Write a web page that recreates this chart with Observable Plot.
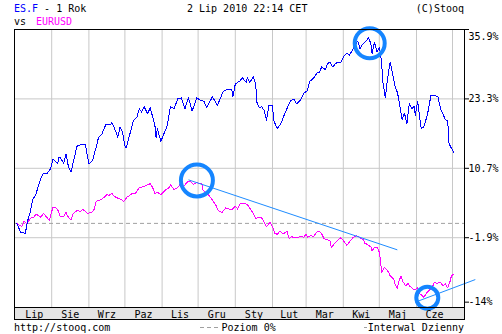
<!DOCTYPE html>
<html><head><meta charset="utf-8">
<script src="https://cdn.jsdelivr.net/npm/d3@7"></script>
<script src="https://cdn.jsdelivr.net/npm/@observablehq/plot@0.6"></script>
<style>
html,body{margin:0;padding:0;background:#fff;}
#chart svg{display:block;}
#chart text{white-space:pre;}
</style></head><body><div id="chart"></div>
<script>
// ES.F (blue) – % change
const esDates = [
 "2009-07-03","2009-07-06","2009-07-10","2009-07-12","2009-07-14","2009-07-16","2009-07-19","2009-07-21","2009-07-23","2009-07-25","2009-07-28","2009-07-31",
 "2009-08-02","2009-08-06","2009-08-07","2009-08-08","2009-08-11","2009-08-13","2009-08-15","2009-08-17","2009-08-19","2009-08-22","2009-08-25","2009-08-29","2009-08-31",
 "2009-09-01","2009-09-04","2009-09-07","2009-09-09","2009-09-12","2009-09-15","2009-09-19","2009-09-20","2009-09-23","2009-09-25","2009-09-27","2009-09-29",
 "2009-10-01","2009-10-02","2009-10-06","2009-10-08","2009-10-11","2009-10-13","2009-10-15","2009-10-17","2009-10-20","2009-10-22","2009-10-25","2009-10-26","2009-10-27","2009-10-28","2009-10-31",
 "2009-11-02","2009-11-05","2009-11-08","2009-11-11","2009-11-14","2009-11-17","2009-11-20","2009-11-23","2009-11-26","2009-11-30",
 "2009-12-03","2009-12-06","2009-12-08","2009-12-13","2009-12-17","2009-12-22","2009-12-25","2009-12-29","2009-12-30",
 "2010-01-01","2010-01-05","2010-01-07","2010-01-10","2010-01-11","2010-01-13","2010-01-16","2010-01-18","2010-01-19","2010-01-21","2010-01-23","2010-01-25","2010-01-27","2010-01-29",
 "2010-02-01","2010-02-02","2010-02-05","2010-02-08","2010-02-10","2010-02-13","2010-02-16","2010-02-19","2010-02-21","2010-02-24","2010-02-27",
 "2010-03-02","2010-03-04","2010-03-07","2010-03-10","2010-03-12","2010-03-14","2010-03-17","2010-03-19","2010-03-21","2010-03-23","2010-03-26","2010-03-30",
 "2010-04-01","2010-04-04","2010-04-06","2010-04-10","2010-04-13","2010-04-15","2010-04-17","2010-04-20","2010-04-22","2010-04-24","2010-04-25","2010-04-27","2010-04-29",
 "2010-05-01","2010-05-02","2010-05-03","2010-05-04","2010-05-05","2010-05-06","2010-05-08","2010-05-09","2010-05-10","2010-05-12","2010-05-14","2010-05-16","2010-05-17","2010-05-19","2010-05-20","2010-05-22","2010-05-24","2010-05-26","2010-05-28","2010-05-30","2010-05-31",
 "2010-06-02","2010-06-04","2010-06-05","2010-06-07","2010-06-10","2010-06-11","2010-06-13","2010-06-17","2010-06-19","2010-06-21","2010-06-23","2010-06-25","2010-06-27","2010-06-28","2010-06-29",
 "2010-07-02"
];
const esValues = [
 0.7, -0.9, -1.1, 1.2, 2.7, 4.9, 6.1, 7.6, 8.9, 9.8, 9.7, 10.6,
 12.4, 11.5, 12.7, 12.7, 11.6, 13.3, 10.9, 10.0, 11.8, 14.7, 15.0, 15.0, 12.7,
 11.5, 12.1, 14.5, 16.3, 17.0, 18.6, 18.6, 19.1, 17.6, 16.3, 18.2, 17.3,
 14.8, 14.4, 17.6, 19.4, 20.0, 21.5, 20.9, 21.9, 20.6, 21.7, 19.4, 18.5, 16.3, 17.9, 15.6,
 16.7, 18.2, 21.9, 21.5, 23.3, 23.5, 21.5, 23.5, 21.1, 23.5,
 23.0, 22.9, 21.7, 23.7, 22.1, 24.7, 25.0, 25.0, 23.7,
 26.0, 26.6, 27.1, 26.3, 27.2, 26.2, 27.4, 26.0, 22.7, 21.7, 21.9, 21.2, 19.4, 22.1,
 22.1, 19.4, 17.9, 18.8, 20.0, 21.5, 23.0, 23.3, 22.4, 23.0, 24.3,
 24.8, 26.5, 27.0, 28.0, 28.1, 29.1, 28.6, 29.7, 30.0, 29.1, 29.8, 30.0,
 30.9, 31.6, 31.2, 32.7, 33.8, 32.4, 33.2, 33.8, 34.4, 33.3, 31.5, 33.6, 31.8,
 32.7, 31.5, 29.7, 26.3, 25.1, 23.5, 27.2, 28.5, 30.0, 27.9, 25.7, 24.5, 23.5, 20.9, 19.5, 20.7, 18.8, 22.4, 21.5, 21.9, 20.3,
 22.9, 19.4, 17.9, 18.2, 20.3, 21.5, 23.9, 23.9, 23.6, 21.5, 20.6, 19.5, 19.4, 15.4, 14.8,
 13.6
];
// EURUSD (magenta) – % change
const fxDates = [
 "2009-07-03","2009-07-07","2009-07-09","2009-07-11","2009-07-13","2009-07-15","2009-07-17","2009-07-19","2009-07-21","2009-07-23","2009-07-25","2009-07-28","2009-07-30","2009-07-31",
 "2009-08-02","2009-08-04","2009-08-06","2009-08-08","2009-08-11","2009-08-13","2009-08-14","2009-08-17","2009-08-19","2009-08-22","2009-08-25","2009-08-27","2009-08-29","2009-08-31",
 "2009-09-03","2009-09-05","2009-09-07","2009-09-10","2009-09-13","2009-09-16","2009-09-18","2009-09-20","2009-09-22","2009-09-25","2009-09-28","2009-09-30",
 "2009-10-03","2009-10-05","2009-10-07","2009-10-10","2009-10-13","2009-10-15","2009-10-17","2009-10-20","2009-10-22","2009-10-24","2009-10-26","2009-10-28","2009-10-31",
 "2009-11-02","2009-11-04","2009-11-07","2009-11-08","2009-11-11","2009-11-14","2009-11-16","2009-11-19","2009-11-22","2009-11-24","2009-11-27","2009-11-30",
 "2009-12-02","2009-12-04","2009-12-05","2009-12-07","2009-12-10","2009-12-13","2009-12-16","2009-12-18","2009-12-21","2009-12-24","2009-12-27","2009-12-29",
 "2010-01-01","2010-01-03","2010-01-05","2010-01-09","2010-01-11","2010-01-14","2010-01-16","2010-01-18","2010-01-20","2010-01-23","2010-01-25","2010-01-27","2010-01-30",
 "2010-02-01","2010-02-03","2010-02-05","2010-02-07","2010-02-10","2010-02-13","2010-02-15","2010-02-17","2010-02-19","2010-02-22","2010-02-24","2010-02-27",
 "2010-03-01","2010-03-02","2010-03-05","2010-03-07","2010-03-10","2010-03-12","2010-03-14","2010-03-16","2010-03-19","2010-03-21","2010-03-22","2010-03-25","2010-03-27","2010-03-30",
 "2010-04-01","2010-04-04","2010-04-06","2010-04-09","2010-04-12","2010-04-15","2010-04-18","2010-04-19","2010-04-21","2010-04-24","2010-04-25","2010-04-27","2010-04-29",
 "2010-05-01","2010-05-02","2010-05-03","2010-05-05","2010-05-07","2010-05-09","2010-05-10","2010-05-13","2010-05-14","2010-05-16","2010-05-17","2010-05-19","2010-05-21","2010-05-23","2010-05-25","2010-05-26","2010-05-28","2010-05-30",
 "2010-06-02","2010-06-04","2010-06-07","2010-06-10","2010-06-12","2010-06-14","2010-06-16","2010-06-18","2010-06-21","2010-06-23","2010-06-25","2010-06-27","2010-06-29","2010-06-30",
 "2010-07-02"
];
const fxValues = [
 0.7, 0.1, 1.1, 0.7, 1.2, 1.8, 1.8, 2.4, 2.1, 1.8, 2.5, 1.8, 1.2, 2.1,
 3.6, 3.6, 3.2, 2.0, 2.0, 2.7, 2.1, 1.3, 2.5, 3.0, 2.9, 3.2, 2.9, 2.5,
 2.7, 3.0, 4.7, 4.9, 5.3, 5.9, 5.8, 6.2, 5.6, 5.3, 5.0, 4.7,
 5.5, 5.8, 6.1, 6.2, 7.2, 7.3, 7.4, 7.7, 7.9, 7.3, 6.1, 6.4, 5.9,
 6.4, 6.8, 7.2, 7.7, 6.8, 7.2, 7.8, 7.4, 8.2, 8.4, 7.8, 8.1,
 7.9, 8.0, 6.8, 6.4, 5.8, 4.9, 3.9, 3.0, 2.7, 3.5, 3.3, 3.2,
 3.8, 3.3, 4.3, 4.3, 4.1, 3.2, 2.5, 1.5, 1.8, 1.7, 0.9, 0.1, 0.9,
 0.1, -1.1, -1.3, -0.7, -1.2, -0.7, -2.1, -1.7, -1.9, -1.9, -1.7, -1.8,
 -1.2, -1.8, -1.5, -1.7, -0.9, -0.7, -1.2, -2.1, -2.3, -2.5, -3.7, -2.9, -2.4, -1.9,
 -2.4, -3.3, -2.7, -1.9, -1.5, -1.9, -2.3, -2.9, -3.1, -3.6, -4.3, -3.7, -3.6,
 -4.5, -6.0, -8.2, -7.3, -7.7, -8.2, -8.8, -9.4, -10.3, -11.2, -10.0, -8.9, -10.0, -10.6, -10.2, -10.6, -11.0, -11.4,
 -11.0, -12.1, -12.7, -11.8, -11.4, -10.9, -10.0, -10.2, -10.0, -10.6, -10.3, -11.0, -9.8, -8.9,
 -8.5
];
// Axis ticks
const yTickValues = [35.9, 23.3, 10.7, -1.9, -13.6];
const yTickLabels = ["35.9%", "23.3%", "10.7%", "-1.9%", "-14%"];
const yGridValues = [23.3, 10.7, -1.9];
const monthLabels = ["Lip","Sie","Wrz","Paz","Lis","Gru","Sty","Lut","Mar","Kwi","Maj","Cze"];
// Hand-drawn annotations (data coordinates)
const circleDates = ["2010-04-23", "2009-11-30", "2010-06-10"];
const circleValues = [33.4, 8.5, -12.8];
const trendStartDates = ["2009-11-23", "2010-05-31"];
const trendStartValues = [8.6, -13.6];
const trendEndDates = ["2010-05-16", "2010-07-20"];
const trendEndValues = [-4.1, -9.5];

const D = s => new Date(s);
const es = esDates.map((d, i) => ({date: D(d), value: esValues[i]}));
const fx = fxDates.map((d, i) => ({date: D(d), value: fxValues[i]}));
const circles = circleDates.map((d, i) => ({date: D(d), value: circleValues[i]}));
const trends = trendStartDates.map((d, i) => ({x1: D(d), y1: trendStartValues[i], x2: D(trendEndDates[i]), y2: trendEndValues[i]}));
const levelValue = esValues[0];

const monthStarts = d3.utcMonths(D("2009-08-01"), D("2010-07-02"));
const firstDate = es[0].date;
const monthMids = d3.utcMonths(D("2009-07-01"), D("2010-07-01")).map(m => {
  const s = m < firstDate ? firstDate : m;
  const e = d3.utcMonth.offset(m, 1);
  return new Date((+s + +e) / 2);
});
const monthLabelOf = new Map(monthMids.map((d, i) => [+d, monthLabels[i]]));
const yLabelOf = new Map(yTickValues.map((v, i) => [v, yTickLabels[i]]));
const FONT = "'DejaVu Sans Mono', monospace";

const chart = Plot.plot({
  width: 502, height: 334,
  marginTop: 29, marginRight: 38, marginBottom: 27, marginLeft: 14,
  style: {fontFamily: FONT, fontSize: "10px", background: "transparent", color: "#000"},
  x: {type: "utc", domain: [D("2009-07-01"), D("2010-07-11")], label: null},
  y: {domain: [-14.57, 35.9], label: null},
  marks: [
    Plot.ruleX(monthStarts, {stroke: "#c8c8c8", strokeOpacity: 1}),
    Plot.ruleY(yGridValues, {stroke: "#c8c8c8", strokeOpacity: 1}),
    Plot.ruleY([levelValue], {stroke: "#a0a0a0", strokeDasharray: "4,3"}),
    Plot.line(fx, {x: "date", y: "value", stroke: "#ff00ff", strokeWidth: 1, shapeRendering: "crispEdges"}),
    Plot.line(es, {x: "date", y: "value", stroke: "#0000ff", strokeWidth: 1, shapeRendering: "crispEdges"}),
    Plot.link(trends, {x1: "x1", y1: "y1", x2: "x2", y2: "y2", stroke: "#1e8cff", strokeWidth: 1}),
    Plot.dot([circles[0]], {x: "date", y: "value", r: 15, stroke: "#1585ff", strokeWidth: 4, fill: "none"}),
    Plot.dot([circles[1]], {x: "date", y: "value", r: 16, stroke: "#1585ff", strokeWidth: 4, fill: "none"}),
    Plot.dot([circles[2]], {x: "date", y: "value", r: 11, stroke: "#1585ff", strokeWidth: 4, fill: "none"}),
    Plot.frame({stroke: "#000"}),
    Plot.axisY(yTickValues.slice(1), {anchor: "right", tickSize: 4, tickPadding: 0, tickFormat: v => yLabelOf.get(v), label: null}),
    Plot.axisY([yTickValues[0]], {anchor: "right", tickSize: 4, tickFormat: () => "", label: null}),
    Plot.text([yTickValues[0]], {y: d => d, text: d => yLabelOf.get(d), frameAnchor: "right", textAnchor: "start", lineAnchor: "top", dx: 4, dy: 3}),
    Plot.axisX(monthMids, {anchor: "bottom", tickSize: 0, tickPadding: 3, tickFormat: d => monthLabelOf.get(+d), label: null})
  ]
});

const svg = d3.select(chart);
const [xl, xr] = chart.scale("x").range;
const yb = chart.scale("y").range[0];
svg.insert("rect", ":first-child")
  .attr("x", xl + 0.5).attr("y", yb + 0.5).attr("width", xr - xl).attr("height", 12)
  .attr("fill", "#e4e4e4").attr("stroke", "#000");

function txt(x, y, anchor, fill) {
  return svg.append("text").attr("x", x).attr("y", y).attr("text-anchor", anchor)
    .attr("font-family", FONT).attr("font-size", 10).attr("fill", fill || "#000");
}
const t1 = txt(xl, 12, "start");
t1.append("tspan").attr("fill", "#0000ff").text("ES.F");
t1.append("tspan").text(" - 1 Rok");
txt(187, 12, "start").text("2 Lip 2010 22:14 CET");
txt(xr, 12, "end").text("(C)Stooq");
txt(xl, 25, "start").text("vs");
txt(36, 25, "start", "#ff00ff").text("EURUSD");
txt(xl, 331, "start").text("http://stooq.com");
svg.append("line").attr("x1", 200).attr("x2", 218).attr("y1", 327.5).attr("y2", 327.5)
  .attr("stroke", "#a0a0a0").attr("stroke-dasharray", "4,3");
txt(221.5, 331, "start").text("Poziom 0%");
svg.append("line").attr("x1", 364).attr("x2", 367).attr("y1", 327.5).attr("y2", 327.5)
  .attr("stroke", "#a0a0a0");
txt(xr, 331, "end").text("Interwal Dzienny");

document.getElementById("chart").appendChild(chart);
</script>
</body></html>
